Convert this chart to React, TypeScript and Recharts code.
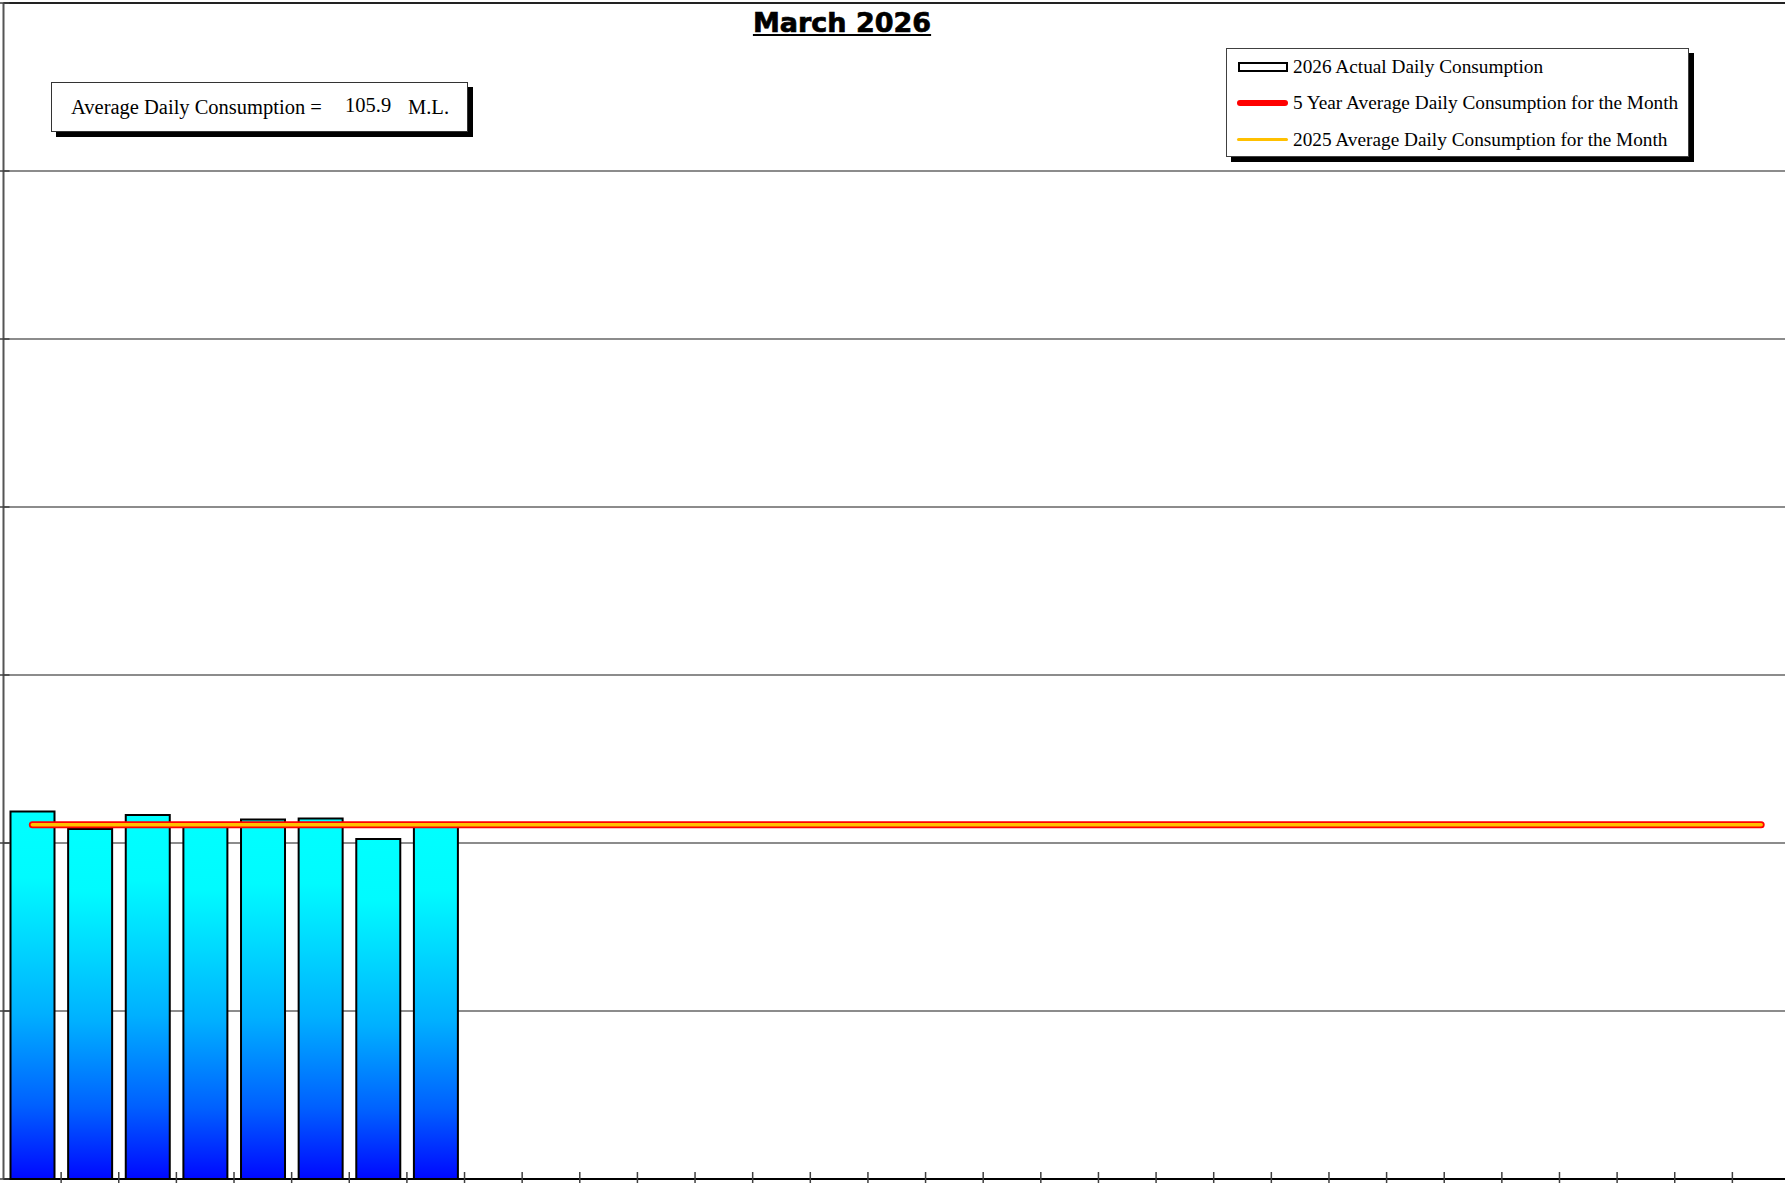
import {
  Bar,
  CartesianGrid,
  ComposedChart,
  Legend,
  Line,
  ReferenceLine,
  XAxis,
  YAxis,
} from "recharts";

// days of the month (x categories)
const days = [
  1, 2, 3, 4, 5, 6, 7, 8, 9, 10, 11, 12, 13, 14, 15, 16, 17, 18, 19, 20, 21,
  22, 23, 24, 25, 26, 27, 28, 29, 30, 31,
];
// ML per day, only the first 8 days are in so far
const actual2026 = [109.4, 104.2, 108.3, 105.0, 107.0, 107.3, 101.2, 104.8];
const fiveYearAverage = 105.4;
const average2025 = 105.4;
const averageDaily = 105.9;

const yTicks = [0, 50, 100, 150, 200, 250, 300, 350];
const xTicks = days.slice(0, -1).map((d) => d + 0.5); // marks sit between days

const seriesOrder = ["actual", "fiveYear", "lastYear"];

const chartData = days.map((day, i) => ({
  day,
  actual: i < actual2026.length ? actual2026[i] : null,
  fiveYear: fiveYearAverage,
  lastYear: average2025,
}));

const SERIF = "'Liberation Serif', 'Times New Roman', serif";

const XTickMark = (props: any) => (
  <line
    x1={props.x}
    x2={props.x}
    y1={props.y - 7}
    y2={props.y + 4}
    stroke="#404040"
    strokeWidth={1.5}
  />
);

const YTickMark = (props: any) => (
  <line
    x1={props.x - 4}
    x2={props.x + 6}
    y1={props.y}
    y2={props.y}
    stroke="#404040"
    strokeWidth={1.5}
  />
);

const Swatch = ({ kind }: { kind: string }) => {
  if (kind === "actual")
    return (
      <div
        style={{
          width: 46,
          height: 6,
          border: "2.5px solid #000",
          background: "#fff",
          marginLeft: 1,
        }}
      />
    );
  const color = kind === "fiveYear" ? "#ff0000" : "#ffc000";
  const h = kind === "fiveYear" ? 6 : 3.5;
  return (
    <div style={{ width: 51, height: h, borderRadius: h, background: color }} />
  );
};

const LegendBox = ({ payload }: any) => {
  const items = seriesOrder
    .map((k) => (payload || []).find((p: any) => p.dataKey === k))
    .filter(Boolean);
  return (
    <div
      style={{
        width: 463,
        height: 109,
        boxSizing: "border-box",
        border: "1px solid #404040",
        background: "#fff",
        boxShadow: "5px 5px 0 #000",
        fontFamily: SERIF,
        fontSize: 19.3,
        color: "#000",
      }}
    >
      {items.map((item: any) => (
        <div
          key={item.dataKey}
          style={{ height: 36.3, display: "flex", alignItems: "center" }}
        >
          <div style={{ width: 51, marginLeft: 10, marginRight: 5 }}>
            <Swatch kind={item.dataKey} />
          </div>
          <span>{item.value}</span>
        </div>
      ))}
    </div>
  );
};

const App = () => {
  return (
    <div
      style={{
        position: "absolute",
        left: 0,
        top: 0,
        width: 1785,
        height: 1184,
        overflow: "hidden",
        background: "#fff",
      }}
    >
      <ComposedChart
        width={1790}
        height={1200}
        data={chartData}
        margin={{ top: 3, right: 0, bottom: 0, left: 0 }}
      >
        <defs>
          <linearGradient id="barFill" x1="0" y1="0" x2="0" y2="1">
            <stop offset="0%" stopColor="#00ffff" />
            <stop offset="18%" stopColor="#00fbff" />
            <stop offset="55%" stopColor="#00b0ff" />
            <stop offset="80%" stopColor="#0060ff" />
            <stop offset="100%" stopColor="#0008ff" />
          </linearGradient>
        </defs>
        <CartesianGrid vertical={false} stroke="#666" strokeWidth={1.5} />
        <XAxis
          dataKey="day"
          type="number"
          domain={[0.5, 31.5]}
          ticks={xTicks}
          interval={0}
          height={21}
          tickSize={0}
          tickMargin={0}
          tickLine={false}
          tick={XTickMark}
          axisLine={{ stroke: "#000", strokeWidth: 2 }}
        />
        <YAxis
          type="number"
          domain={[0, 350]}
          ticks={yTicks}
          interval={0}
          width={3.5}
          tickSize={0}
          tickMargin={0}
          tickLine={false}
          tick={YTickMark}
          axisLine={{ stroke: "#555", strokeWidth: 2 }}
        />
        <ReferenceLine y={350} stroke="#222" strokeWidth={2} />
        <Legend
          layout="vertical"
          align="center"
          verticalAlign="middle"
          content={LegendBox}
          wrapperStyle={{ left: 1226, top: 48, width: 463, height: 109 }}
        />
        <Bar
          dataKey="actual"
          name="2026 Actual Daily Consumption"
          fill="url(#barFill)"
          stroke="#000"
          strokeWidth={2}
          barSize={44}
          isAnimationActive={false}
        />
        <Line
          dataKey="fiveYear"
          name="5 Year Average Daily Consumption for the Month"
          stroke="#ff0000"
          strokeWidth={7}
          strokeLinecap="round"
          dot={false}
          activeDot={false}
          isAnimationActive={false}
        />
        <Line
          dataKey="lastYear"
          name="2025 Average Daily Consumption for the Month"
          stroke="#ffc000"
          strokeWidth={3.5}
          strokeLinecap="round"
          dot={false}
          activeDot={false}
          isAnimationActive={false}
        />
      </ComposedChart>

      <div
        style={{
          position: "absolute",
          left: 842,
          top: 9,
          transform: "translateX(-50%)",
          fontFamily: "'DejaVu Sans', sans-serif",
          fontWeight: "bold",
          fontSize: 27,
          lineHeight: "27px",
          textDecoration: "underline",
          WebkitTextStroke: "0.7px #000",
          whiteSpace: "nowrap",
          color: "#000",
        }}
      >
        March 2026
      </div>

      <div
        style={{
          position: "absolute",
          left: 51,
          top: 82,
          width: 417,
          height: 50,
          boxSizing: "border-box",
          border: "1px solid #333",
          background: "#fff",
          boxShadow: "5px 5px 0 #000",
          fontFamily: SERIF,
          fontSize: 20.5,
          lineHeight: "48px",
          color: "#000",
          whiteSpace: "nowrap",
        }}
      >
        <span style={{ position: "absolute", left: 19 }}>
          Average Daily Consumption =
        </span>
        <span style={{ position: "absolute", left: 293, top: -2 }}>
          {averageDaily.toFixed(1)}
        </span>
        <span style={{ position: "absolute", left: 356 }}>M.L.</span>
      </div>
    </div>
  );
};

export default App;
